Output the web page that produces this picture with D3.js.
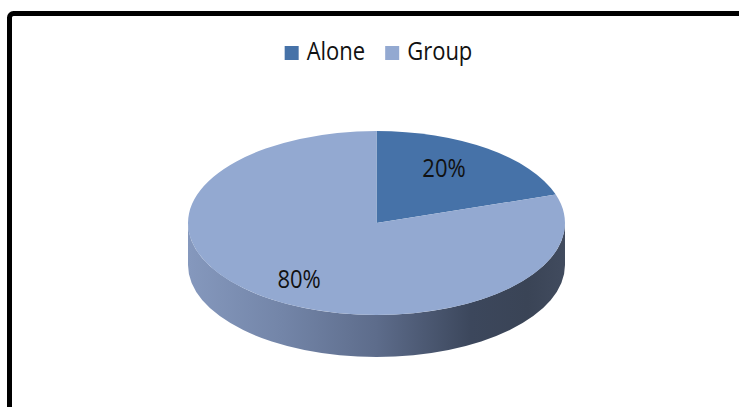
<!DOCTYPE html>
<html>
<head>
<meta charset="utf-8">
<script src="https://cdn.jsdelivr.net/npm/d3@7/dist/d3.min.js"></script>
<style>
  html, body { margin: 0; padding: 0; background: #fff; }
  svg { display: block; }
  text { font-family: "Open Sans", "Noto Sans", sans-serif; fill: #111; }
</style>
</head>
<body>
<script>
// Share of respondents by setting
const categories = ["Alone", "Group"];
const values = [20, 80];
const labels = ["20%", "80%"];
const colors = ["#4672a8", "#93a9d1"];

const W = 739, H = 407;
const cx = 376.5, cy = 223;     // centre of the pie's top face
const rx = 188.5, ry = 92;      // ellipse radii of the tilted face
const depth = 42;               // thickness of the disc
const textStretch = 1.16;

const svg = d3.select("body").append("svg")
  .attr("width", W).attr("height", H);

// Outer frame
svg.append("rect")
  .attr("x", 9.5).attr("y", 13.5)
  .attr("width", 780).attr("height", 440)
  .attr("rx", 4).attr("ry", 4)
  .attr("fill", "#fff")
  .attr("stroke", "#000").attr("stroke-width", 5);

// Shading for the visible rim of the disc
const defs = svg.append("defs");
const grad = defs.append("linearGradient")
  .attr("id", "rim")
  .attr("gradientUnits", "userSpaceOnUse")
  .attr("x1", cx - rx).attr("x2", cx + rx)
  .attr("y1", 0).attr("y2", 0);
[
  [0, "#8598bd"],
  [0.25, "#7385a8"],
  [0.5, "#5d6c8b"],
  [0.75, "#3c475c"],
  [0.9, "#3a4456"],
  [1, "#414b5e"]
].forEach(([o, c]) => grad.append("stop").attr("offset", o).attr("stop-color", c));

// Angles measured clockwise from 12 o'clock
const pie = d3.pie().sort(null).value(d => d)
  .startAngle(0).endAngle(2 * Math.PI);
const arcs = pie(values);

const pt = (a, dy = 0) => [cx + rx * Math.sin(a), cy - ry * Math.cos(a) + dy];

// Rim: only the front half (between 3 and 9 o'clock) is visible
const gRim = svg.append("g");
arcs.forEach((d, i) => {
  const a0 = Math.max(d.startAngle, Math.PI / 2);
  const a1 = Math.min(d.endAngle, 3 * Math.PI / 2);
  if (a1 <= a0) return;
  const p0 = pt(a0), p1 = pt(a1);
  const q0 = pt(a0, depth), q1 = pt(a1, depth);
  const large = (a1 - a0) > Math.PI ? 1 : 0;
  const path = d3.path();
  path.moveTo(...p0);
  path.lineTo(...q0);
  const pathStr = path.toString() +
    `A${rx},${ry} 0 ${large} 1 ${q1[0]},${q1[1]}` +
    `L${p1[0]},${p1[1]}` +
    `A${rx},${ry} 0 ${large} 0 ${p0[0]},${p0[1]}Z`;
  gRim.append("path")
    .attr("d", pathStr)
    .attr("fill", "url(#rim)");
});

// Top face slices
const gTop = svg.append("g");
arcs.forEach((d, i) => {
  const p0 = pt(d.startAngle), p1 = pt(d.endAngle);
  const large = (d.endAngle - d.startAngle) > Math.PI ? 1 : 0;
  gTop.append("path")
    .attr("d", `M${cx},${cy}L${p0[0]},${p0[1]}A${rx},${ry} 0 ${large} 1 ${p1[0]},${p1[1]}Z`)
    .attr("fill", colors[i]);
});

// Percentage labels
const fontSize = 22;
arcs.forEach((d, i) => {
  const mid = (d.startAngle + d.endAngle) / 2;
  const x = cx + 0.654 * rx * Math.sin(mid) - 5;
  const y = cy - 0.75 * ry * Math.cos(mid);
  svg.append("text")
    .attr("transform", `translate(${x},${y}) scale(1,${textStretch})`)
    .attr("text-anchor", "middle")
    .attr("dominant-baseline", "central")
    .attr("font-size", fontSize)
    .text(labels[i]);
});

// Legend, centred above the pie
const legend = svg.append("g");
const items = legend.selectAll("g").data(categories).join("g");
items.append("rect")
  .attr("width", 14).attr("height", 14)
  .attr("y", -14)
  .attr("fill", (d, i) => colors[i]);
items.append("text")
  .attr("transform", `translate(22,0) scale(1,${textStretch})`)
  .attr("font-size", fontSize)
  .text(d => d);

let xOff = 0;
const gap = 20;
items.each(function () {
  const w = 22 + this.querySelector("text").getComputedTextLength();
  d3.select(this).attr("transform", `translate(${xOff},0)`);
  xOff += w + gap;
});
const legendWidth = xOff - gap;
legend.attr("transform", `translate(${cx + 2 - legendWidth / 2},60)`);
</script>
</body>
</html>
